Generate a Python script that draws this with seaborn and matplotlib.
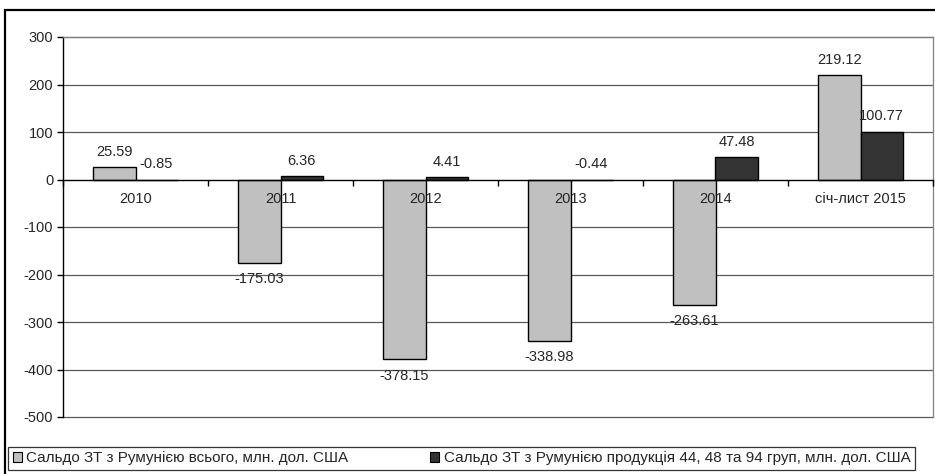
import matplotlib
matplotlib.use("Agg")
import matplotlib.pyplot as plt
import matplotlib.patches as mpatches
import seaborn as sns
import pandas as pd
import numpy as np

# Trade balance with Romania, mln USD
periods = ["2010", "2011", "2012", "2013", "2014", "січ-лист 2015"]
total_balance = [25.59, -175.03, -378.15, -338.98, -263.61, 219.12]
group_balance = [-0.85, 6.36, 4.41, -0.44, 47.48, 100.77]
series_names = [
    "Сальдо ЗТ з Румунією всього, млн. дол. США",
    "Сальдо ЗТ з Румунією продукція 44, 48 та 94 груп, млн. дол. США",
]
y_ticks = [300, 200, 100, 0, -100, -200, -300, -400, -500]

df = pd.DataFrame({
    "period": periods * 2,
    "value": total_balance + group_balance,
    "series": [series_names[0]] * len(periods) + [series_names[1]] * len(periods),
})

sns.set_theme(style="white")
plt.rcParams["font.family"] = ["Liberation Sans", "DejaVu Sans"]

fig = plt.figure(figsize=(9.35, 4.74), dpi=100)
W, H = 935, 474
ax = fig.add_axes([63 / W, 1 - 417 / H, (933 - 63) / W, (417 - 37) / H])

palette = {series_names[0]: "#C0C0C0", series_names[1]: "#333333"}
sns.barplot(data=df, x="period", y="value", hue="series", order=periods,
            hue_order=series_names, palette=palette, width=0.58,
            edgecolor="black", linewidth=1.0, saturation=1, ax=ax,
            legend=False, zorder=3)

ax.set_ylim(-500, 300)
ax.set_xlim(-0.5, len(periods) - 0.5)
ax.set_yticks(y_ticks)
ax.set_yticklabels([str(v) for v in y_ticks], fontsize=10.5)
ax.set_xlabel("")
ax.set_ylabel("")

# horizontal gridlines
for v in y_ticks:
    if v != 0:
        ax.axhline(v, color="#5a5a5a", lw=0.9, zorder=1, clip_on=False)

for side in ["top", "right"]:
    ax.spines[side].set_visible(True)
    ax.spines[side].set_color("#808080")
    ax.spines[side].set_linewidth(0.9)
ax.spines["left"].set_color("black")
ax.spines["left"].set_linewidth(1.0)
ax.spines["bottom"].set_position(("data", 0))
ax.spines["bottom"].set_color("black")
ax.spines["bottom"].set_linewidth(1.0)
ax.spines["bottom"].set_zorder(4)

# category axis crossing at zero: ticks at boundaries, labels at centers
ax.set_xticks(np.arange(-0.5, len(periods), 1.0))
ax.set_xticklabels([])
ax.set_xticks(np.arange(len(periods)), minor=True)
ax.set_xticklabels(periods, minor=True, fontsize=10.5)
ax.tick_params(axis="x", which="major", direction="out", length=4,
               width=1, color="black", bottom=True)
ax.tick_params(axis="x", which="minor", length=0, pad=9, bottom=True)
ax.tick_params(axis="y", direction="out", length=4, width=1,
               color="black", left=True, pad=3)
ax.xaxis.set_zorder(6)

# value labels
half = 0.58 / 4
for i, (a, b) in enumerate(zip(total_balance, group_balance)):
    for xpos, v in ((i - half, a), (i + half, b)):
        above = v > -5
        ax.annotate(f"{v:.2f}", xy=(xpos, max(v, 0) if above else v),
                    xytext=(0, 6 if above else -7), textcoords="offset points",
                    ha="center", va="bottom" if above else "top",
                    fontsize=10.5, zorder=7)

# legend across the bottom
handles = [mpatches.Patch(facecolor=palette[n], edgecolor="black", lw=0.8)
           for n in series_names]
leg = fig.legend(handles, series_names, loc="lower left",
                 bbox_to_anchor=(8 / W, 1 - 470 / H, 907 / W, 23 / H),
                 mode="expand", ncol=2, fontsize=11, frameon=True,
                 fancybox=False, borderpad=0.3, handlelength=0.6,
                 handleheight=0.6, handletextpad=0.3, borderaxespad=0)
leg.get_frame().set_edgecolor("black")
leg.get_frame().set_linewidth(0.9)

# outer chart frame
fig.patches.append(mpatches.Rectangle((5 / W, -0.1), 1.2, 1 - 10 / H + 0.1,
                                      transform=fig.transFigure, fill=False,
                                      edgecolor="black", lw=1.6))

fig.savefig("out.png", dpi=100)
